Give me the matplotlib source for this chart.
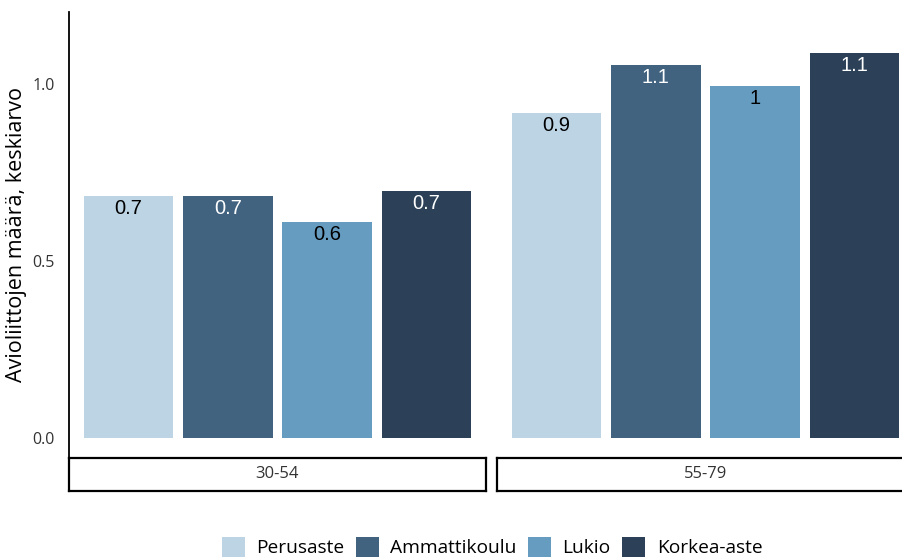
import matplotlib.pyplot as plt
from matplotlib.patches import Patch

# data
age_groups = ['30-54', '55-79']
education = ['Perusaste', 'Ammattikoulu', 'Lukio', 'Korkea-aste']
values_30_54 = [0.684, 0.684, 0.610, 0.698]
values_55_79 = [0.918, 1.054, 0.994, 1.088]
colors = ['#BDD4E4', '#416380', '#659CC0', '#2C4157']
label_colors = ['black', 'white', 'black', 'white']

W, H = 903, 557
fig = plt.figure(figsize=(W / 100, H / 100), dpi=100)

axis_font = 'Open Sans'
label_font = 'Liberation Sans'

panel_top, panel_bottom = 12, 458
strip_bottom = 491
panels = [(69, 417), (497, 417)]

for i, (vals, grp) in enumerate(zip([values_30_54, values_55_79], age_groups)):
    x0, w = panels[i]
    ax = fig.add_axes([x0 / W, (H - panel_bottom) / H, w / W,
                       (panel_bottom - panel_top) / H])
    xs = range(len(vals))
    ax.bar(xs, vals, width=0.9, color=colors)
    for x, v, c in zip(xs, vals, label_colors):
        ax.text(x, v - 0.008, f'{round(v, 1):g}', ha='center', va='top',
                fontsize=14.5, color=c, family=label_font)
    ax.set_xlim(-0.6, 3.6)
    ax.set_ylim(-0.056, 1.203)
    ax.set_xticks([])
    for s in ['top', 'right', 'bottom']:
        ax.spines[s].set_visible(False)
    if i == 0:
        ax.spines['left'].set_linewidth(1.3)
        ax.set_yticks([0, 0.5, 1.0])
        ax.set_yticklabels(['0.0', '0.5', '1.0'], family=axis_font,
                           fontsize=11.5, color='#333333')
        ax.tick_params(axis='y', length=0, pad=10)
        ax.set_ylabel('Avioliittojen määrä, keskiarvo', family=axis_font,
                      fontsize=15.5, labelpad=4)
    else:
        ax.spines['left'].set_visible(False)
        ax.set_yticks([])

    # facet strip under the panel
    sx = fig.add_axes([x0 / W, (H - strip_bottom) / H, w / W,
                       (strip_bottom - panel_bottom) / H])
    sx.set_xticks([])
    sx.set_yticks([])
    for s in sx.spines.values():
        s.set_linewidth(1.6)
    sx.text(0.5, 0.5, grp, ha='center', va='center', family=axis_font,
            fontsize=12, color='#333333', transform=sx.transAxes)

handles = [Patch(facecolor=c, label=e) for c, e in zip(colors, education)]
fig.legend(handles=handles, loc='center', bbox_to_anchor=(492 / W, (H - 547) / H),
           ncol=4, frameon=False, prop={'family': axis_font, 'size': 13.8},
           handlelength=1.2, handleheight=1.2, handletextpad=0.6,
           columnspacing=0.6)

plt.savefig('out.png', dpi=100)
